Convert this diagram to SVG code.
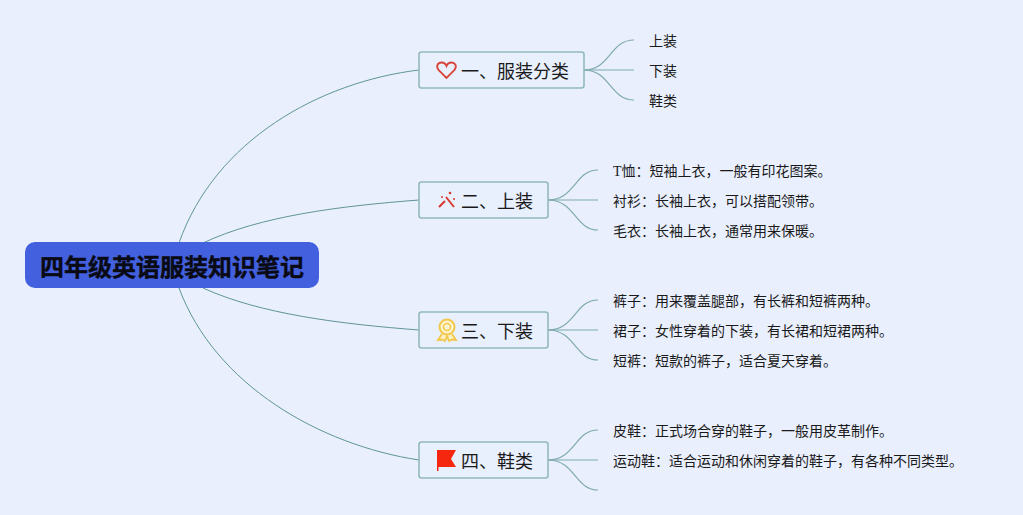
<svg xmlns="http://www.w3.org/2000/svg" width="1023" height="515" viewBox="0 0 1023 515">
<style>
text{font-family:"Noto Sans CJK SC","Liberation Sans",sans-serif;fill:#1a1a1a}
.b{fill:#e8effd;stroke:#93b9bd;stroke-width:1.6}
.t{font-size:18px}
.s{font-size:14px}
.c path{fill:none;stroke:#5f9499;stroke-width:1}
.c .k{stroke:#7fabaf;stroke-width:1.2}
</style>
<rect width="1023" height="515" fill="#e9effd"/>
<g class="c" id="connectors">
<path d="M179 243C215 140 320 82 419 70"/>
<path d="M203 243C260 216 340 206 419 200"/>
<path d="M203 288C260 314 340 324 419 330"/>
<path d="M179 288C215 385 320 445 419 460"/>
<path class="k" d="M584 70C610 70 610 40 634 40"/>
<path class="k" d="M584 70H634"/>
<path class="k" d="M584 70C610 70 610 100 634 100"/>
<path class="k" d="M548 200C575 200 575 170 598 170"/>
<path class="k" d="M548 200H598"/>
<path class="k" d="M548 200C575 200 575 230 598 230"/>
<path class="k" d="M548 330C575 330 575 300 598 300"/>
<path class="k" d="M548 330H598"/>
<path class="k" d="M548 330C575 330 575 360 598 360"/>
<path class="k" d="M548 460C575 460 575 430 598 430"/>
<path class="k" d="M548 460H598"/>
<path class="k" d="M548 460C575 460 575 490 598 490"/>
</g>
<g id="root">
<rect x="25" y="242" width="294" height="46" rx="10" fill="#4361de"/>
<text x="172" y="276" text-anchor="middle" font-size="24" font-weight="700" stroke="#0a0a14" stroke-width="0.4" style="fill:#0a0a14">四年级英语服装知识笔记</text>
</g>
<g id="n1">
<rect class="b" x="419" y="52" width="165" height="36" rx="2.500"/>
<path d="M446.500 78L438.500 70C435.500 66 438 62.500 441.500 62.500C444 62.500 445.700 64 446.500 66C447.300 64 449 62.500 451.500 62.500C455 62.500 457.500 66 454.500 70Z" fill="none" stroke="#d9453a" stroke-width="1.800"/>
<text class="t" x="461" y="78">一、服装分类</text>
</g>
<g id="n2">
<rect class="b" x="419" y="182" width="129" height="36" rx="2.500"/>
<path d="M439 207L445 201M446 197L454 207" stroke="#d83a30" stroke-width="2" fill="none"/>
<circle cx="450" cy="193" r="1.300" fill="#d83a30"/><circle cx="442" cy="197" r="1" fill="#d83a30"/><circle cx="454" cy="199" r="1" fill="#d83a30"/>
<text class="t" x="461" y="208">二、上装</text>
</g>
<g id="n3">
<rect class="b" x="419" y="312" width="129" height="36" rx="2.500"/>
<path d="M442 334L438 340L442 339.500L445 341L447 336L449 341L452 339.500L456 340L452 334" fill="#fdf0c4" stroke="#f2c84b" stroke-width="1.800"/>
<circle cx="447" cy="327" r="7.500" fill="#fdf3cf" stroke="#f2c84b" stroke-width="2"/>
<circle cx="447" cy="327" r="3.500" fill="none" stroke="#f2c84b" stroke-width="1.500"/>
<text class="t" x="461" y="338">三、下装</text>
</g>
<g id="n4">
<rect class="b" x="419" y="442" width="129" height="36" rx="2.500"/>
<path d="M437 450H456L451 459L456 467H438.500V471H437Z" fill="#f5280f"/>
<text class="t" x="461" y="468">四、鞋类</text>
</g>
<g id="leaf-a"><text class="s" x="649" y="46">上装</text></g>
<g id="leaf-b"><text class="s" x="649" y="76">下装</text></g>
<g id="leaf-c"><text class="s" x="649" y="106">鞋类</text></g>
<g id="leaf-d"><text class="s" x="613" y="176"><tspan style="font-family:'Liberation Serif',serif">T</tspan>恤：短袖上衣，一般有印花图案。</text></g>
<g id="leaf-e"><text class="s" x="613" y="206">衬衫：长袖上衣，可以搭配领带。</text></g>
<g id="leaf-f"><text class="s" x="613" y="236">毛衣：长袖上衣，通常用来保暖。</text></g>
<g id="leaf-g"><text class="s" x="613" y="306">裤子：用来覆盖腿部，有长裤和短裤两种。</text></g>
<g id="leaf-h"><text class="s" x="613" y="336">裙子：女性穿着的下装，有长裙和短裙两种。</text></g>
<g id="leaf-i"><text class="s" x="613" y="366">短裤：短款的裤子，适合夏天穿着。</text></g>
<g id="leaf-j"><text class="s" x="613" y="436">皮鞋：正式场合穿的鞋子，一般用皮革制作。</text></g>
<g id="leaf-k"><text class="s" x="613" y="466">运动鞋：适合运动和休闲穿着的鞋子，有各种不同类型。</text></g>
</svg>
